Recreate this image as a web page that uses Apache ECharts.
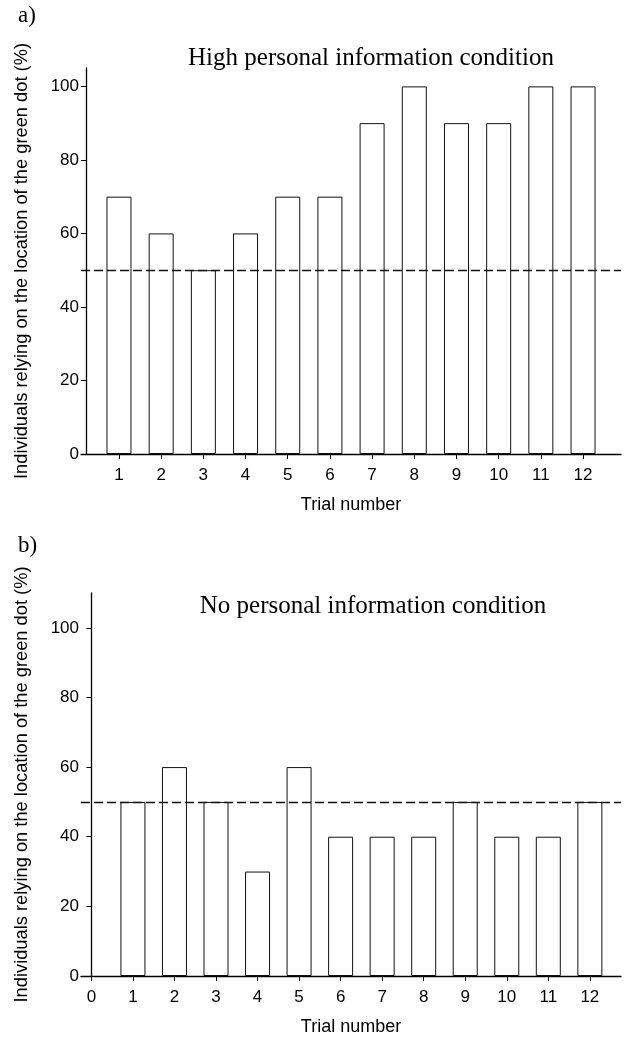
<!DOCTYPE html>
<html>
<head>
<meta charset="utf-8">
<script src="https://cdn.jsdelivr.net/npm/echarts@6/dist/echarts.min.js"></script>
<style>html,body{margin:0;padding:0;background:#fff}#c{width:624px;height:1037px}</style>
</head>
<body>
<div id="c"></div>
<script>
var trialsTop = [1,2,3,4,5,6,7,8,9,10,11,12];
var trialsBottom = [1,2,3,4,5,6,7,8,9,10,11,12];
var highInfo = [70,60,50,60,70,70,90,100,90,90,100,100];
var noInfo = [50,60,50,30,60,40,40,40,50,40,40,50];
var yTicks = [0,20,40,60,80,100];
var xTicksTop = [1,2,3,4,5,6,7,8,9,10,11,12];
var xTicksBottom = [0,1,2,3,4,5,6,7,8,9,10,11,12];
var chanceLevel = 50;

var sans = 'Liberation Sans';
var serif = 'Liberation Serif';
var yName = 'Individuals relying on the location of the green dot (%)';

function xAx(gi, min, max, ticks) {
  return {
    type: 'value', gridIndex: gi, min: min, max: max,
    name: 'Trial number', nameLocation: 'middle', nameGap: 42,
    nameTextStyle: {fontFamily: sans, fontSize: 18, color: '#000'},
    axisLine: {show: true, onZero: false, lineStyle: {color: '#000', width: 1.3}},
    axisTick: {show: true, length: 5, customValues: ticks, lineStyle: {color: '#000'}},
    axisLabel: {customValues: ticks, fontFamily: sans, fontSize: 17, color: '#000', margin: 13},
    splitLine: {show: false}
  };
}
function yAx(gi, max) {
  return {
    type: 'value', gridIndex: gi, min: 0, max: max, offset: -5,
    name: yName, nameLocation: 'middle', nameGap: 55, nameRotate: 90,
    nameTextStyle: {fontFamily: sans, fontSize: 18.3, color: '#000'},
    axisLine: {show: true, lineStyle: {color: '#000', width: 1.3}},
    axisTick: {show: true, length: 5, customValues: yTicks, lineStyle: {color: '#000'}},
    axisLabel: {customValues: yTicks, fontFamily: sans, fontSize: 17, color: '#000', margin: 7},
    splitLine: {show: false}
  };
}
function barSeries(gi, xs, vals, xmin, xmax) {
  return {
    type: 'bar', xAxisIndex: gi, yAxisIndex: gi,
    data: xs.map(function (x, i) { return [x, vals[i]]; }),
    barWidth: 25,
    itemStyle: {color: '#fff', borderColor: '#111', borderWidth: 1},
    silent: true,
    markLine: {
      silent: true, symbol: ['none', 'none'], label: {show: false},
      lineStyle: {type: [9, 4], color: '#111', width: 1.3},
      data: [[{coord: [xmin, chanceLevel]}, {coord: [xmax, chanceLevel]}]]
    }
  };
}

var chart = echarts.init(document.getElementById('c'), null, {renderer: 'canvas'});
chart.setOption({
  animation: false,
  backgroundColor: '#fff',
  title: [
    {text: 'a)', left: 13, top: -1, textStyle: {fontFamily: serif, fontSize: 23, fontWeight: 'normal', color: '#000'}},
    {text: 'High personal information condition', left: 366, top: 41, textAlign: 'center',
      textStyle: {fontFamily: serif, fontSize: 25, fontWeight: 'normal', color: '#000'}},
    {text: 'b)', left: 13, top: 529, textStyle: {fontFamily: serif, fontSize: 23, fontWeight: 'normal', color: '#000'}},
    {text: 'No personal information condition', left: 368, top: 589, textAlign: 'center',
      textStyle: {fontFamily: serif, fontSize: 25, fontWeight: 'normal', color: '#000'}}
  ],
  grid: [
    {left: 81, right: 3, top: 68, height: 386},
    {left: 81, right: 3, top: 593, height: 387}
  ],
  xAxis: [xAx(0, 0.1, 12.9, xTicksTop), xAx(1, -0.25, 12.75, xTicksBottom)],
  yAxis: [yAx(0, 105), yAx(1, 110)],
  series: [
    barSeries(0, trialsTop, highInfo, 0.1, 12.9),
    barSeries(1, trialsBottom, noInfo, -0.25, 12.75)
  ]
});
</script>
</body>
</html>
